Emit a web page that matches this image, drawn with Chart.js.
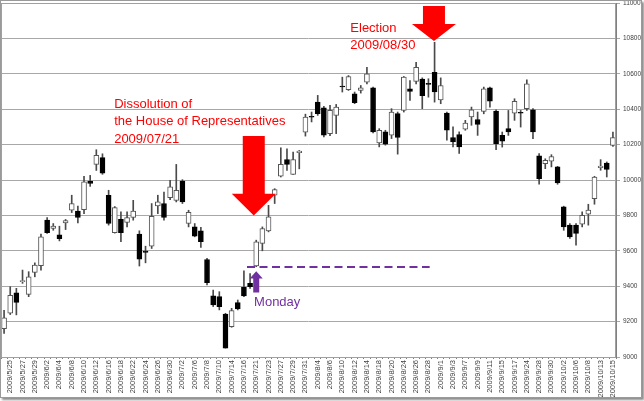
<!DOCTYPE html>
<html lang="en">
<head>
    <meta charset="UTF-8">
    <title>Nikkei 225 2009</title>
    <script src="https://cdn.jsdelivr.net/npm/chart.js"></script>
    <style>
        body { margin:0; background:#fff; }
        #frame { position:absolute; left:0; top:0; width:640px; height:396px; border:1px solid #9a9a9a; box-shadow:2px 2px 2px rgba(0,0,0,0.45); background:#fff; }
    </style>
</head>
<body>
    <div id="frame"><canvas id="myChart" width="640" height="396"></canvas></div>

    <script>
        // 日付 (営業日)
        const dates = ['2009/5/22','2009/5/25','2009/5/26','2009/5/27','2009/5/28','2009/5/29',
            '2009/6/1','2009/6/2','2009/6/3','2009/6/4','2009/6/5','2009/6/8','2009/6/9','2009/6/10','2009/6/11','2009/6/12',
            '2009/6/15','2009/6/16','2009/6/17','2009/6/18','2009/6/19','2009/6/22','2009/6/23','2009/6/24','2009/6/25','2009/6/26',
            '2009/6/29','2009/6/30','2009/7/1','2009/7/2','2009/7/3','2009/7/6','2009/7/7','2009/7/8','2009/7/9','2009/7/10',
            '2009/7/13','2009/7/14','2009/7/15','2009/7/16','2009/7/17','2009/7/21','2009/7/22','2009/7/23','2009/7/24',
            '2009/7/27','2009/7/28','2009/7/29','2009/7/30','2009/7/31','2009/8/3','2009/8/4','2009/8/5','2009/8/6','2009/8/7',
            '2009/8/10','2009/8/11','2009/8/12','2009/8/13','2009/8/14','2009/8/17','2009/8/18','2009/8/19','2009/8/20','2009/8/21',
            '2009/8/24','2009/8/25','2009/8/26','2009/8/27','2009/8/28','2009/8/31','2009/9/1','2009/9/2','2009/9/3','2009/9/4',
            '2009/9/7','2009/9/8','2009/9/9','2009/9/10','2009/9/11','2009/9/14','2009/9/15','2009/9/16','2009/9/17','2009/9/18',
            '2009/9/24','2009/9/25','2009/9/28','2009/9/29','2009/9/30','2009/10/1','2009/10/2','2009/10/5','2009/10/6','2009/10/7',
            '2009/10/8','2009/10/9','2009/10/13','2009/10/14','2009/10/15'];

        const opens  = [9160,9247,9363,9425,9354,9478,9516,9773,9726,9690,9758,9829,9825,9833,9993,10088,10126,9914,9703,9778,
            9760,9788,9694,9598,9626,9854,9867,9900,9885,9994,9754,9735,9713,9551,9345,9341,9243,9172,9307,9393,
            9416,9514,9642,9713,9914,10021,10116,10032,10154,10270,10360,10440,10408,10262,10365,10530,10510,10487,10506,10553,
            10521,10210,10272,10253,10375,10393,10515,10557,10570,10546,10609,10453,10378,10240,10257,10287,10356,10342,10388,10521,
            10389,10252,10290,10378,10383,10403,10397,10136,10092,10107,10074,9848,9745,9745,9750,9807,9895,10070,10096,10196];
        const highs  = [9263,9397,9388,9491,9482,9532,9694,9788,9754,9739,9777,9914,9853,10021,10026,10171,10148,9942,9850,9820,
            9820,9885,9713,9626,9867,9914,9932,9998,10088,10002,9829,9754,9732,9557,9378,9369,9247,9275,9322,9487,
            9472,9660,9735,9857,9951,10182,10176,10158,10167,10372,10384,10478,10416,10422,10427,10581,10590,10497,10534,10637,
            10525,10290,10281,10403,10384,10585,10562,10665,10577,10572,10778,10577,10384,10300,10272,10337,10412,10384,10525,10525,
            10397,10271,10393,10459,10393,10566,10403,10149,10120,10143,10077,9852,9754,9754,9820,9863,10021,10115,10102,10271];
        const lows   = [9133,9240,9238,9416,9341,9453,9491,9698,9716,9656,9720,9816,9758,9810,9964,10054,10032,9745,9700,9651,
            9735,9773,9514,9532,9613,9810,9773,9889,9876,9867,9735,9679,9619,9407,9285,9266,9050,9168,9266,9341,
            9388,9510,9600,9707,9867,10017,10054,10032,10063,10248,10328,10365,10244,10250,10262,10497,10506,10431,10491,10543,
            10266,10187,10197,10234,10146,10384,10450,10543,10403,10468,10440,10431,10225,10187,10150,10281,10309,10252,10374,10412,
            10171,10186,10252,10337,10299,10393,10233,9976,10064,10074,9976,9716,9670,9632,9735,9745,9863,10055,10017,10190];
        const closes = [9222,9348,9309,9432,9453,9519,9679,9703,9739,9669,9771,9867,9788,9989,9981,10139,10039,9754,9844,9703,
            9788,9825,9553,9591,9795,9876,9788,9961,9942,9876,9818,9683,9651,9420,9294,9285,9050,9262,9271,9345,
            9397,9651,9726,9792,9946,10088,10088,10116,10163,10355,10355,10375,10253,10393,10412,10526,10585,10437,10521,10600,
            10272,10281,10202,10384,10240,10581,10500,10637,10476,10540,10497,10534,10281,10215,10187,10322,10397,10314,10515,10446,
            10205,10220,10271,10444,10378,10544,10271,10008,10111,10133,9983,9735,9679,9698,9801,9830,10017,10078,10060,10239];

        const yTicks = [9000,9200,9400,9600,9800,10000,10200,10400,10600,10800,11000];

        // 注記 (x = 日付インデックス, y = 値)
        const redArrows = [
            {x:40.6, tip:9800, head:9923, top:10248},
            {x:69.9, tip:10785, head:10881, top:10983}
        ];
        const mondayArrow = {x:41.0, tip:9484, head:9444, bottom:9365};
        const mondayLine = {from:39.5, to:69.2, y:9508};
        const notes = [
            {text:'Election', x:56.3, y:10838, color:'#ff0000'},
            {text:'2009/08/30', x:56.3, y:10740, color:'#ff0000'},
            {text:'Dissolution of', x:17.9, y:10406, color:'#ff0000'},
            {text:'the House of Representatives', x:17.9, y:10308, color:'#ff0000'},
            {text:'2009/07/21', x:17.9, y:10210, color:'#ff0000'},
            {text:'Monday', x:40.65, y:9287, color:'#7030a0'}
        ];

        const wicks = lows.map((l,i)=>[l, highs[i]]);
        const bodies = opens.map((o,i)=>[o, closes[i]]);
        const bodyColors = opens.map((o,i)=> closes[i] >= o ? '#ffffff' : '#000000');
        const borderColors = opens.map((o,i)=> closes[i] >= o ? '#555555' : '#000000');

        const notePlugin = {
            id:'notes',
            afterDatasetsDraw(chart){
                const ctx = chart.ctx;
                const xs = chart.scales.x, ys = chart.scales.y;
                ctx.save();
                // 破線
                ctx.strokeStyle = '#7030a0';
                ctx.lineWidth = 2;
                ctx.setLineDash([8,4.5]);
                ctx.beginPath();
                ctx.moveTo(xs.getPixelForValue(mondayLine.from), ys.getPixelForValue(mondayLine.y));
                ctx.lineTo(xs.getPixelForValue(mondayLine.to), ys.getPixelForValue(mondayLine.y));
                ctx.stroke();
                ctx.setLineDash([]);

                // 赤矢印
                ctx.fillStyle = '#ff0000';
                redArrows.forEach(a=>{
                    const cx = xs.getPixelForValue(a.x);
                    const t = ys.getPixelForValue(a.tip), h = ys.getPixelForValue(a.head), top = ys.getPixelForValue(a.top);
                    ctx.beginPath();
                    ctx.moveTo(cx-11, top); ctx.lineTo(cx+11, top); ctx.lineTo(cx+11, h);
                    ctx.lineTo(cx+22, h); ctx.lineTo(cx, t); ctx.lineTo(cx-22, h); ctx.lineTo(cx-11, h);
                    ctx.closePath(); ctx.fill();
                });

                // 紫矢印
                ctx.fillStyle = '#7030a0';
                const mx = xs.getPixelForValue(mondayArrow.x);
                const mt = ys.getPixelForValue(mondayArrow.tip), mh = ys.getPixelForValue(mondayArrow.head), mb = ys.getPixelForValue(mondayArrow.bottom);
                ctx.beginPath();
                ctx.moveTo(mx, mt); ctx.lineTo(mx+6.5, mh); ctx.lineTo(mx+3, mh); ctx.lineTo(mx+3, mb);
                ctx.lineTo(mx-3, mb); ctx.lineTo(mx-3, mh); ctx.lineTo(mx-6.5, mh);
                ctx.closePath(); ctx.fill();

                // テキスト
                ctx.font = '13px "Liberation Sans", Arial, sans-serif';
                ctx.textAlign = 'left';
                ctx.textBaseline = 'alphabetic';
                notes.forEach(n=>{
                    ctx.fillStyle = n.color;
                    ctx.fillText(n.text, xs.getPixelForValue(n.x), ys.getPixelForValue(n.y));
                });

                // 枠
                const ca = chart.chartArea;
                ctx.strokeStyle = '#a0a0a0';
                ctx.lineWidth = 1;
                ctx.strokeRect(ca.left+0.5, ca.top+0.5, ca.right-ca.left-1, ca.bottom-ca.top);
                ctx.restore();
            }
        };

        const ctx = document.querySelector('#myChart').getContext('2d');
        const myChart = new Chart(ctx, {
            type:'bar',
            data:{
                labels:dates,
                datasets:[
                    {
                        label:'body',
                        data:bodies,
                        backgroundColor:bodyColors,
                        borderColor:borderColors,
                        borderWidth:1,
                        borderSkipped:false,
                        barThickness:5,
                        grouped:false,
                        order:0
                    },
                    {
                        label:'wick',
                        data:wicks,
                        backgroundColor:'#4a4a4a',
                        borderWidth:0,
                        barThickness:1,
                        grouped:false,
                        order:1
                    }
                ]
            },
            options:{
                responsive:false,
                devicePixelRatio:1,
                animation:false,
                layout:{padding:{left:0, top:2, right:0, bottom:0}},
                plugins:{legend:{display:false}, tooltip:{enabled:false}},
                scales:{
                    x:{
                        grid:{drawOnChartArea:false, drawTicks:true, tickLength:2, color:'#808080'},
                        border:{color:'#808080'},
                        ticks:{
                            autoSkip:false, minRotation:90, maxRotation:90, padding:1,
                            color:'#404040',
                            font:{size:7.5, family:'"Liberation Sans", Arial, sans-serif'},
                            callback:function(v, i){ return i % 2 === 1 ? dates[i] : ''; }
                        },
                        afterFit:function(s){ s.height = 40; s.paddingLeft = 0; s.paddingRight = 0; }
                    },
                    y:{
                        position:'right',
                        min:9000, max:11000,
                        afterBuildTicks:function(s){ s.ticks = yTicks.map(v=>({value:v})); },
                        grid:{color:'#a8a8a8', tickLength:4},
                        border:{color:'#808080'},
                        ticks:{
                            padding:3, color:'#404040',
                            font:{size:6.5, family:'"Liberation Sans", Arial, sans-serif'},
                            callback:function(v){ return String(v); }
                        },
                        afterFit:function(s){ s.width = 25; s.paddingTop = 0; s.paddingBottom = 0; }
                    }
                }
            },
            plugins:[notePlugin]
        });
    </script>
</body>
</html>
